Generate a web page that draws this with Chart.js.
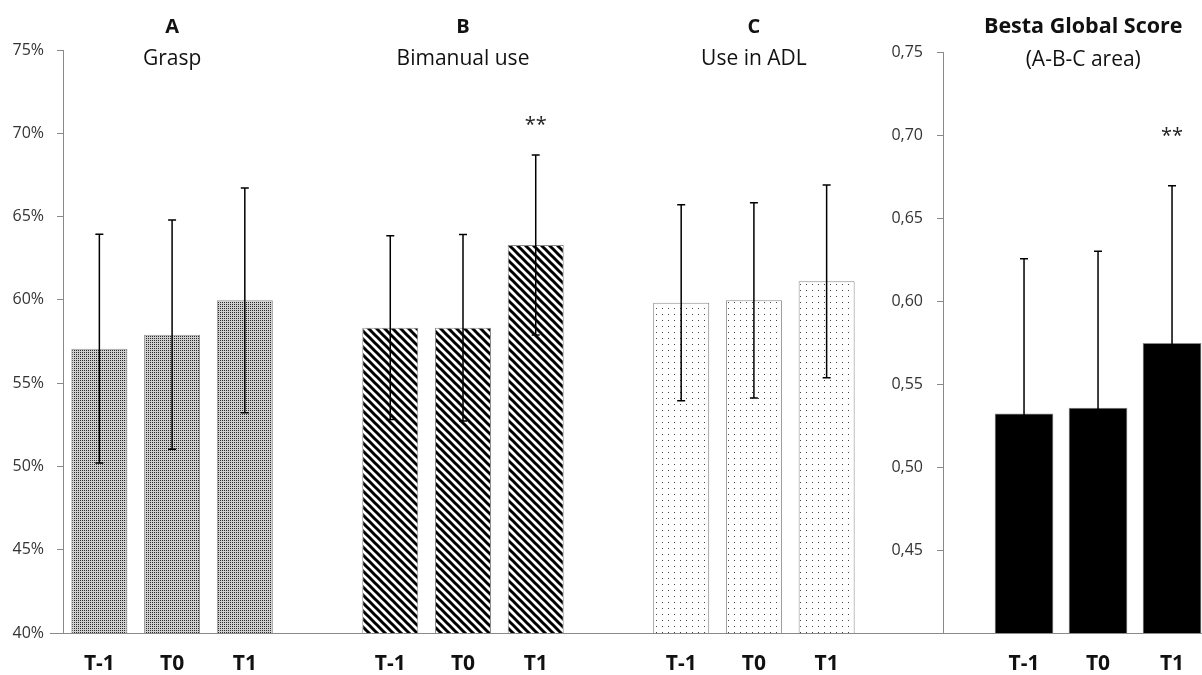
<!DOCTYPE html>
<html>
<head>
<meta charset="utf-8">
<script src="https://cdn.jsdelivr.net/npm/chart.js@4.4.1/dist/chart.umd.min.js"></script>
<style>
  html, body { margin: 0; padding: 0; background: #fff; overflow: hidden; }
  #left { position: absolute; left: 0; top: 0; width: 864px; height: 675px; }
  #right { position: absolute; left: 864px; top: 0; width: 338px; height: 675px; }
</style>
</head>
<body>
<div id="left"><canvas id="areas"></canvas></div>
<div id="right"><canvas id="global"></canvas></div>
<script>
// Time points and areas
const periods = ["T-1", "T0", "T1"];
const areaLetters = ["A", "B", "C"];
const areaNames = ["Grasp", "Bimanual use", "Use in ADL"];

// Area scores, % (mean and SD)
const graspMean = [57.07, 57.91, 59.97];
const graspSD = [6.87, 6.88, 6.74];
const bimanualMean = [58.33, 58.33, 63.29];
const bimanualSD = [5.52, 5.60, 5.40];
const adlMean = [59.83, 59.97, 61.11];
const adlSD = [5.88, 5.86, 5.78];
const pctTicks = [40, 45, 50, 55, 60, 65, 70, 75];

// Besta global score (A-B-C area)
const globalMean = [0.532, 0.5355, 0.5745];
const globalSD = [0.0935, 0.0945, 0.095];
const scoreTicks = [0.40, 0.45, 0.50, 0.55, 0.60, 0.65, 0.70, 0.75];

// "**" marks (level where they sit), null = none
const graspSig = [null, null, null];
const bimanualSig = [null, null, 70.5];
const adlSig = [null, null, null];
const globalSig = [null, null, 0.699];

const FONT = "'Open Sans', 'Liberation Sans', sans-serif";
Chart.defaults.font.family = FONT;
Chart.defaults.color = "#333";

// Fill patterns
function tile(w, h, draw) {
  const c = document.createElement("canvas");
  c.width = w; c.height = h;
  const g = c.getContext("2d");
  draw(g);
  return g.createPattern(c, "repeat");
}
const finePattern = tile(2, 2, g => {
  g.fillStyle = "#cfcfcf"; g.fillRect(0, 0, 2, 2);
  g.fillStyle = "#2a2a2a"; g.fillRect(0, 0, 1, 1);
});
const stripePattern = tile(8, 8, g => {
  g.fillStyle = "#fff"; g.fillRect(0, 0, 8, 8);
  g.strokeStyle = "#000"; g.lineWidth = 3;
  for (const k of [-8, 0, 8]) {
    g.beginPath(); g.moveTo(k - 2, -2); g.lineTo(k + 10, 10); g.stroke();
  }
});
const dotPattern = tile(6, 6, g => {
  g.fillStyle = "#fff"; g.fillRect(0, 0, 6, 6);
  g.fillStyle = "#444"; g.fillRect(2, 2, 1, 1);
});

function errorBars(means, sds, sig) {
  return {
    id: "errorBars",
    afterDatasetsDraw(chart) {
      const { ctx, scales: { y } } = chart;
      const bars = chart.getDatasetMeta(0).data;
      ctx.save();
      ctx.strokeStyle = "#000";
      ctx.lineWidth = 1.5;
      means.forEach((m, i) => {
        if (m == null) return;
        const x = bars[i].x;
        const hi = y.getPixelForValue(m + sds[i]);
        const lo = y.getPixelForValue(Math.max(m - sds[i], y.min));
        ctx.beginPath();
        ctx.moveTo(x, hi); ctx.lineTo(x, lo);
        ctx.moveTo(x - 4, hi); ctx.lineTo(x + 4, hi);
        ctx.moveTo(x - 4, lo); ctx.lineTo(x + 4, lo);
        ctx.stroke();
      });
      ctx.fillStyle = "#222";
      ctx.font = "20px " + FONT;
      ctx.textAlign = "center";
      ctx.textBaseline = "middle";
      sig.forEach((s, i) => {
        if (s == null) return;
        ctx.fillText("**", bars[i].x, y.getPixelForValue(s));
      });
      ctx.restore();
    }
  };
}

// baseline continues to the left of the y axis
function baselineExt(from) {
  return {
    id: "baselineExt",
    afterDraw(chart) {
      const { ctx, chartArea, scales: { y } } = chart;
      const yy = Math.round(y.getPixelForValue(y.min)) + 0.5;
      ctx.save();
      ctx.strokeStyle = "#8a8a8a"; ctx.lineWidth = 1;
      ctx.beginPath(); ctx.moveTo(from, yy); ctx.lineTo(chartArea.left, yy); ctx.stroke();
      ctx.restore();
    }
  };
}

const gap = [null];
const leftLabels = [...periods, "", ...periods, "", ...periods];
const leftMean = [...graspMean, ...gap, ...bimanualMean, ...gap, ...adlMean];
const leftSD = [...graspSD, ...gap, ...bimanualSD, ...gap, ...adlSD];
const leftSig = [...graspSig, ...gap, ...bimanualSig, ...gap, ...adlSig];
const leftFill = [
  ...periods.map(() => finePattern), null,
  ...periods.map(() => stripePattern), null,
  ...periods.map(() => dotPattern)
];

const areaTitles = {
  id: "areaTitles",
  afterDraw(chart) {
    const { ctx, scales: { x } } = chart;
    ctx.save();
    ctx.fillStyle = "#111";
    ctx.textAlign = "center";
    areaLetters.forEach((letter, g) => {
      const cx = x.getPixelForValue(g * 4 + 1);
      ctx.font = "bold 20px " + FONT;
      ctx.fillText(letter, cx, 33);
      ctx.font = "21px " + FONT;
      ctx.fillText(areaNames[g], cx, 65);
    });
    ctx.restore();
  }
};

const globalTitle = {
  id: "globalTitle",
  afterDraw(chart) {
    const { ctx, scales: { x } } = chart;
    const cx = x.getPixelForValue(0.8);
    ctx.save();
    ctx.fillStyle = "#111";
    ctx.textAlign = "center";
    ctx.font = "bold 21.5px " + FONT;
    ctx.fillText("Besta Global Score", cx, 33);
    ctx.font = "21px " + FONT;
    ctx.fillText("(A-B-C area)", cx, 66);
    ctx.restore();
  }
};

const yGrid = { display: true, drawOnChartArea: false, drawTicks: true, tickLength: 6, color: "#8a8a8a" };
const xTicks = { font: { size: 21, weight: "bold" }, color: "#111", padding: 10, autoSkip: false, maxRotation: 0 };

new Chart(document.getElementById("areas"), {
  type: "bar",
  data: {
    labels: leftLabels,
    datasets: [{
      data: leftMean,
      backgroundColor: leftFill,
      borderColor: "#8a8a8a",
      borderWidth: 1,
      categoryPercentage: 1,
      barPercentage: 0.77
    }]
  },
  options: {
    animation: false,
    responsive: true,
    maintainAspectRatio: false,
    layout: { padding: { top: 50, right: 1, left: 0, bottom: 0 } },
    plugins: { legend: { display: false }, tooltip: { enabled: false } },
    scales: {
      x: {
        grid: { display: false },
        border: { color: "#8a8a8a" },
        ticks: xTicks,
        afterFit: s => { s.height = 42; }
      },
      y: {
        min: 40, max: 75,
        grid: yGrid,
        border: { color: "#8a8a8a" },
        ticks: { font: { size: 16 }, color: "#333", padding: 13, callback: v => v + "%" },
        afterBuildTicks: s => { s.ticks = pctTicks.map(v => ({ value: v })); },
        afterFit: s => { s.width = 63; }
      }
    }
  },
  plugins: [errorBars(leftMean, leftSD, leftSig), areaTitles, baselineExt(50)]
});

new Chart(document.getElementById("global"), {
  type: "bar",
  data: {
    datasets: [{
      data: globalMean.map((v, i) => ({ x: i, y: v })),
      backgroundColor: "#000",
      borderColor: "#8a8a8a",
      borderWidth: 1,
      barThickness: 58
    }]
  },
  options: {
    animation: false,
    responsive: true,
    maintainAspectRatio: false,
    layout: { padding: { top: 52, right: 0, left: 0, bottom: 0 } },
    plugins: { legend: { display: false }, tooltip: { enabled: false } },
    scales: {
      x: {
        type: "linear",
        offset: false,
        min: -1.095, max: 2.405,
        grid: { display: false },
        border: { color: "#8a8a8a" },
        ticks: { ...xTicks, stepSize: 1, callback: v => (Number.isInteger(v) && periods[v]) || "" },
        afterBuildTicks: s => { s.ticks = [-1, 0, 1, 2].map(v => ({ value: v })); },
        afterFit: s => { s.height = 42; }
      },
      y: {
        min: 0.40, max: 0.75,
        grid: yGrid,
        border: { color: "#8a8a8a" },
        ticks: {
          font: { size: 16 }, color: "#333", padding: 14,
          callback: v => v <= 0.40001 ? "" : v.toFixed(2).replace(".", ",")
        },
        afterBuildTicks: s => { s.ticks = scoreTicks.map(v => ({ value: v })); },
        afterFit: s => { s.width = 79; }
      }
    }
  },
  plugins: [errorBars(globalMean, globalSD, globalSig), globalTitle, baselineExt(0)]
});
</script>
</body>
</html>
